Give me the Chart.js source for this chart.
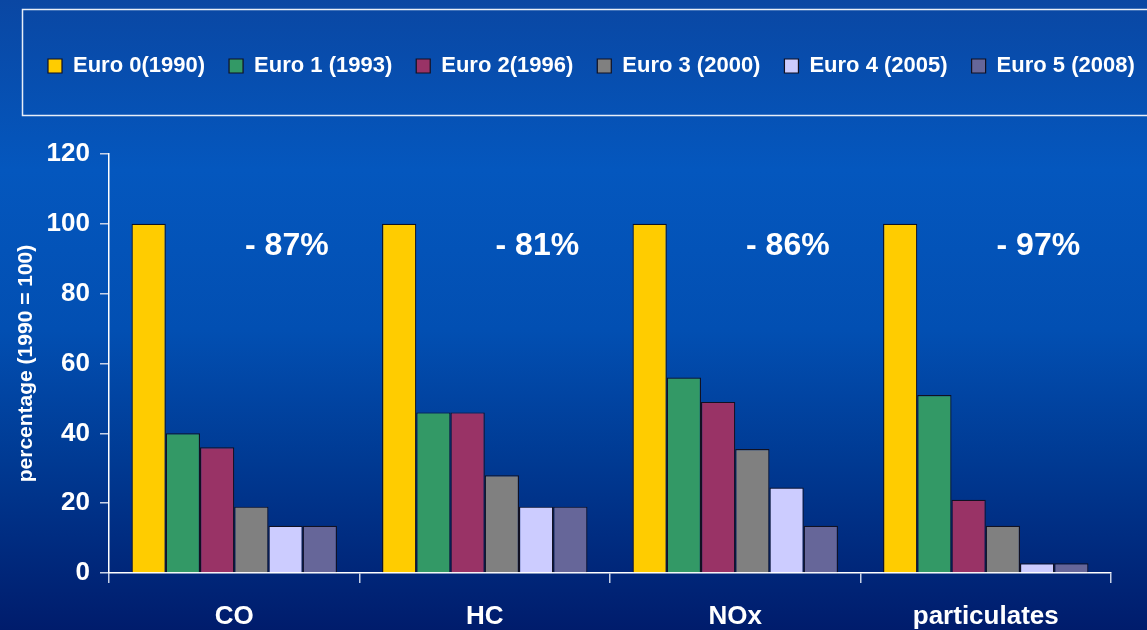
<!DOCTYPE html>
<html>
<head>
<meta charset="utf-8">
<script src="https://cdn.jsdelivr.net/npm/chart.js@4"></script>
<style>
  html, body { margin: 0; padding: 0; }
  body {
    width: 1147px; height: 630px; overflow: hidden;
    background: linear-gradient(to bottom, #0a47a3 0px, #0457be 170px, #024fb2 330px, #003a93 460px, #001c6c 630px);
  }
  #wrap { position: relative; width: 1147px; height: 630px; }
</style>
</head>
<body>
<div id="wrap"><canvas id="emissionChart" width="1147" height="630"></canvas></div>
<script>
const categories = ['CO', 'HC', 'NOx', 'particulates'];
const stageNames = ['Euro 0(1990)', 'Euro 1 (1993)', 'Euro 2(1996)', 'Euro 3 (2000)', 'Euro 4 (2005)', 'Euro 5 (2008)'];
const euro0 = [100, 100, 100, 100];
const euro1 = [40, 46, 56, 51];
const euro2 = [36, 46, 49, 21];
const euro3 = [19, 28, 35.5, 13.5];
const euro4 = [13.5, 19, 24.5, 2.8];
const euro5 = [13.5, 19, 13.5, 2.8];
const reductions = ['- 87%', '- 81%', '- 86%', '- 97%'];
const reductionLevel = 93.6;
const yTicks = [0, 20, 40, 60, 80, 100, 120];

const colors = ['#ffcc00', '#339966', '#993366', '#808080', '#ccccff', '#666699'];
const series = [euro0, euro1, euro2, euro3, euro4, euro5];

const fontFamily = '"Liberation Sans", Arial, sans-serif';

// extra room under the legend, and nudge the legend row to the right
const legendSpace = {
  id: 'legendSpace',
  beforeInit(chart) {
    const fit = chart.legend.fit;
    chart.legend.fit = function () {
      fit.bind(chart.legend)();
      this.height += 67;
    };
  },
  afterLayout(chart) {
    chart.legend.left += 24;
    chart.legend.right += 24;
  }
};

// frame round the legend + the reduction labels
const decorations = {
  id: 'decorations',
  afterDraw(chart) {
    const c = chart.ctx;
    const lg = chart.legend;
    c.save();
    c.strokeStyle = '#e8eef8';
    c.lineWidth = 1.5;
    c.strokeRect(22.5, lg.top - 21.5, chart.width + 10, 106);

    const x = chart.scales.x, y = chart.scales.y;
    const catW = x.getPixelForValue(1) - x.getPixelForValue(0);
    c.fillStyle = '#ffffff';
    c.font = 'bold 32px ' + fontFamily;
    c.textAlign = 'center';
    c.textBaseline = 'middle';
    reductions.forEach((txt, i) => {
      c.fillText(txt, x.getPixelForValue(i) + catW * 0.21, y.getPixelForValue(reductionLevel));
    });
    c.restore();
  }
};

const ctx = document.getElementById('emissionChart').getContext('2d');
new Chart(ctx, {
  type: 'bar',
  data: {
    labels: categories,
    datasets: series.map((vals, i) => ({
      label: stageNames[i],
      data: vals,
      backgroundColor: colors[i],
      borderColor: '#111122',
      borderWidth: 1.2,
      borderSkipped: 'bottom',
      categoryPercentage: 0.82,
      barPercentage: 1.0
    }))
  },
  options: {
    responsive: false,
    animation: false,
    devicePixelRatio: 1,
    layout: { padding: { top: 31, left: 0, right: 0, bottom: 0 } },
    scales: {
      y: {
        min: 0, max: 120,
        afterBuildTicks: (axis) => { axis.ticks = yTicks.map(v => ({ value: v })); },
        afterFit: (axis) => { axis.width = 109; },
        border: { display: true, color: '#ffffff', width: 1.5 },
        grid: { drawOnChartArea: false, color: '#c8d2e6', tickLength: 9, lineWidth: 1.5 },
        ticks: { color: '#ffffff', font: { family: fontFamily, size: 26, weight: 'bold' }, padding: 10 },
        title: {
          display: true,
          text: 'percentage (1990 = 100)',
          color: '#ffffff',
          font: { family: fontFamily, size: 21, weight: 'bold' },
          padding: { top: 14, bottom: 6 }
        }
      },
      yRight: {
        position: 'right',
        afterFit: (axis) => { axis.width = 36; },
        border: { display: false },
        grid: { display: false },
        ticks: { display: false }
      },
      x: {
        afterFit: (axis) => { axis.height = 57; },
        border: { display: true, color: '#ffffff', width: 1.5 },
        grid: { drawOnChartArea: false, color: '#c8d2e6', tickLength: 10, lineWidth: 1.5, offset: true },
        ticks: { color: '#ffffff', font: { family: fontFamily, size: 26, weight: 'bold' }, padding: 18 }
      }
    },
    plugins: {
      legend: {
        position: 'top',
        align: 'start',
        labels: {
          color: '#ffffff',
          boxWidth: 14,
          boxHeight: 14,
          padding: 24,
          font: { family: fontFamily, size: 22, weight: 'bold' }
        }
      },
      tooltip: { enabled: false }
    }
  },
  plugins: [legendSpace, decorations]
});
</script>
</body>
</html>
